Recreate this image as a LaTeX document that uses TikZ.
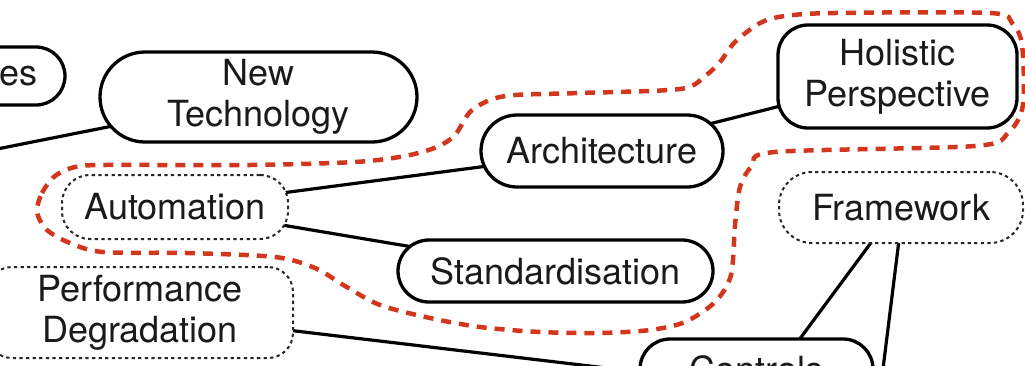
\documentclass[tikz,border=0pt]{standalone}
\usepackage{fontspec}
\setmainfont{TeX Gyre Heros}
\usetikzlibrary{backgrounds,calc}

\definecolor{ink}{HTML}{1A1A1A}
\definecolor{dotgray}{HTML}{262626}
\definecolor{groupred}{RGB}{210,55,30}

\tikzset{
  topic/.style={draw=black, line width=3.3pt, fill=white, text=ink,
    inner sep=0pt, align=center,
    font=\fontsize{36}{41}\selectfont},
  tentative/.style={topic, draw=dotgray, line width=2pt,
    dash pattern=on 3.3pt off 3.3pt},
  link/.style={line width=3.2pt, draw=black},
  group/.style={draw=groupred, line width=4.5pt, dash pattern=on 10pt off 8pt}
}

\begin{document}
\begin{tikzpicture}[x=1pt, y=-1pt]
  \useasboundingbox (0,0) rectangle (1025,365);
  \clip (0,0) rectangle (1025,365);

  % topics
  \node[topic, minimum width=185pt, minimum height=58pt, rounded corners=29pt,
        text width=131pt, align=right] (chal) at (-27.5,76) {es};
  \node[topic, minimum width=317pt, minimum height=90pt, rounded corners=45pt]
        (newtech) at (258.5,97) {New\\Technology};
  \node[topic, minimum width=242pt, minimum height=72pt, rounded corners=36pt]
        (arch) at (602,151) {Architecture};
  \node[topic, minimum width=315pt, minimum height=62pt, rounded corners=31pt]
        (std) at (555.5,271) {Standardisation};
  \node[tentative, minimum width=226pt, minimum height=64pt, rounded corners=28pt]
        (auto) at (175,207) {Automation};
  \node[tentative, minimum width=306pt, minimum height=91pt, rounded corners=25pt]
        (perf) at (140,312.5) {Performance\\Degradation};
  \node[topic, minimum width=239pt, minimum height=103pt, rounded corners=30pt]
        (holi) at (897.5,76.5) {Holistic\\Perspective};
  \node[tentative, minimum width=244pt, minimum height=71pt, rounded corners=33pt]
        (frame) at (901,207.5) {Framework};
  \node[topic, minimum width=233pt, minimum height=60pt, rounded corners=30pt]
        (ctrl) at (756.5,369) {Controls};

  % loose ends of links that leave the view
  \coordinate (offleft) at (-20,152.4);
  \coordinate (offdown) at (881,385);
  \coordinate (offperf) at (620,369.6);

  \begin{pgfonlayer}{background}
    \draw[link] (offleft) -- (newtech.center);
    \draw[link] (auto.center) -- (arch.center);
    \draw[link] (auto.center) -- (std.center);
    \draw[link] (arch.center) -- (holi.center);
    \draw[link] ($(frame.south)+(-28,-4)$) -- ($(ctrl.north)+(41.5,4)$);
    \draw[link] ($(frame.south)+(-2,-4)$) -- (offdown);
    \draw[link] (perf.center) -- (offperf);
  \end{pgfonlayer}

  % grouping outline
  \draw[group] plot[smooth cycle, tension=0.5] coordinates {
    (37,212) (42,193) (55,176) (75,167) (105,165) (250,165) (355,162)
    (405,156) (437,147) (455,135) (470,112) (490,100) (515,95) (580,93)
    (680,89) (705,76) (720,62) (735,42) (760,23) (785,16) (835,13)
    (990,13) (1012,23) (1022,45) (1023,105) (1008,133) (975,146)
    (775,152) (752,166) (740,187) (735,225) (731,275) (715,302)
    (685,322) (650,330) (600,333) (540,332) (480,327) (430,318)
    (380,305) (345,286) (315,268) (275,257) (187,253) (103,252)
    (70,243) (47,230)};
\end{tikzpicture}
\end{document}
